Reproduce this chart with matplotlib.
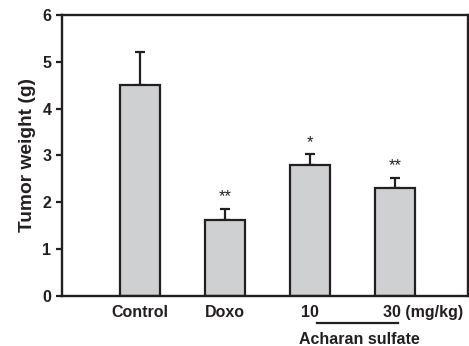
import matplotlib
matplotlib.use('Agg')
import numpy as np
import matplotlib.pyplot as plt

plt.rcParams['font.family'] = ['Liberation Sans', 'DejaVu Sans']
plt.rcParams['font.weight'] = 'bold'

# tumor weight per group
groups = ['Control', 'Doxo', '10', '30']
weight = [4.50, 1.63, 2.80, 2.30]
err = [0.70, 0.23, 0.22, 0.21]
stars = ['', '**', '*', '**']

fig = plt.figure(figsize=(4.69, 3.46), dpi=100)
ax = fig.add_axes([0.132, 0.145, 0.866, 0.812])

x = np.arange(len(groups))
ax.bar(x, weight, width=0.48, color='#cfd0d2', edgecolor='#231f20', linewidth=1.6, zorder=2)
ax.errorbar(x, weight, yerr=[np.zeros(len(err)), err], fmt='none', ecolor='#231f20',
            elinewidth=1.6, capsize=3.5, capthick=1.6, zorder=1)

for xi, w, e, s in zip(x, weight, err, stars):
    if s:
        ax.text(xi, w + e + 0.1, s, ha='center', va='bottom', fontsize=12,
                fontweight='normal', color='#231f20')

ax.set_xlim(-0.92, 3.86)
ax.set_ylim(0, 6)
ax.set_yticks(range(7))
ax.set_xticks([])
ax.tick_params(axis='y', direction='out', length=4, width=1.6, labelsize=11.5, colors='#231f20')
for sp in ax.spines.values():
    sp.set_linewidth(1.7)
    sp.set_color('#231f20')
ax.set_ylabel('Tumor weight (g)', fontsize=13.8, fontweight='bold', color='#231f20', labelpad=5)

# x labels
tr = ax.get_xaxis_transform()
for xi, g in zip(x[:3], groups[:3]):
    ax.text(xi, -0.06, g, transform=tr, ha='center', va='center', fontsize=11.5, color='#231f20')
ax.text(x[3] - 0.14, -0.06, '30 (mg/kg)', transform=tr, ha='left', va='center', fontsize=11.5, color='#231f20')
ax.plot([2.08, 3.04], [-0.096, -0.096], transform=tr, color='#231f20', lw=1.6, clip_on=False)
ax.text(2.58, -0.157, 'Acharan sulfate', transform=tr, ha='center', va='center', fontsize=11.5, color='#231f20')

fig.savefig('out.png', dpi=100)
